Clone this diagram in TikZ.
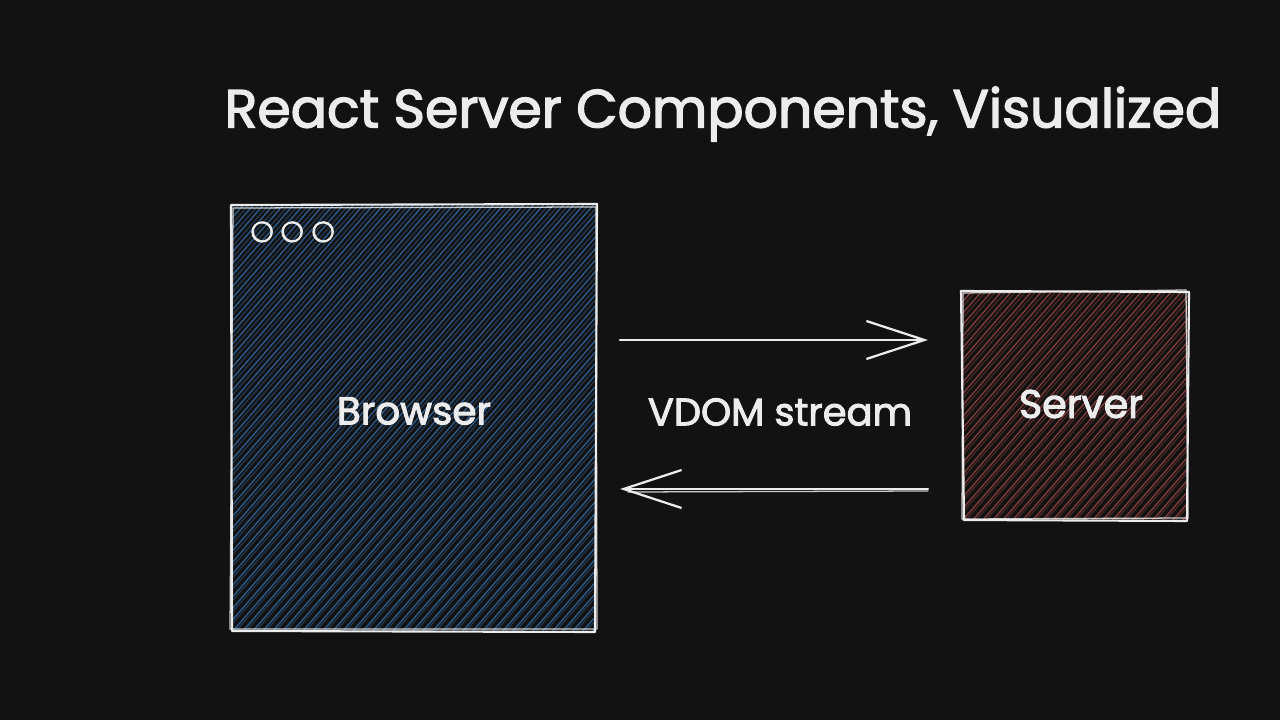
\documentclass[tikz,border=0pt]{standalone}
\usepackage{fontspec}
\setmainfont{Poppins}[FakeBold=2.5]
\usetikzlibrary{arrows.meta}
\definecolor{bg}{HTML}{121212}
\definecolor{ink}{HTML}{ECECEC}
\definecolor{hatchblue}{HTML}{2E5B8A}
\definecolor{hatchred}{HTML}{803C3C}
\newcommand{\fitw}[2]{\resizebox{#1}{!}{#2}}
\tikzset{
  sk/.style={draw=ink, line width=1.5pt, line join=round, line cap=round},
  skthin/.style={draw=ink, line width=0.9pt, line join=round, line cap=round, opacity=0.85},
  hb/.style={draw=hatchblue, line width=0.95pt},
  hr/.style={draw=hatchred, line width=0.95pt},
  lbl/.style={text=ink, inner sep=0pt, anchor=center},
  conn/.style={draw=ink, line width=1.6pt, line cap=round, -{Straight Barb[length=1.45cm,width=0.95cm,line width=1.6pt]}},
  boxnode/.style={draw=none, inner sep=0pt, anchor=north west}
}
\begin{document}
\begin{tikzpicture}[x=0.025cm, y=-0.025cm]
\fill[bg] (0,0) rectangle (1280,720);
\useasboundingbox (0,0) rectangle (1280,720);

% title
\node[lbl] (title) at (723,114) {\fitw{24.9cm}{React Server Components, Visualized}};

% browser box
\node[boxnode, minimum width=9.1cm, minimum height=10.625cm] (browser) at (232,206) {};
\begin{scope}
  \clip (232,206) rectangle (596,631);
  \foreach \i in {-380,-370,...,600} {
    \draw[hb] (232+\i,632) -- ++(600,-690);
    \draw[hb, opacity=0.5] (235+\i,632) -- ++(602,-688);
  }
\end{scope}
\draw[sk] (231,205) -- (597,204) -- (595,632) -- (232,631) -- cycle;
\draw[skthin] (233,208) -- (596,207) -- (597,629) -- (230,629) -- cycle;

% window dots
\foreach \cx/\nm in {262/d1,292/d2,323/d3} {
  \node[circle, draw=ink, line width=1.5pt, minimum size=0.48cm, inner sep=0pt] (\nm) at (\cx,232) {};
  \draw[skthin] (\cx+0.8,231.5) circle (9.5);
}

\node[lbl] (browserlbl) at (414,411) {\fitw{3.85cm}{Browser}};

% server box
\node[boxnode, minimum width=5.65cm, minimum height=5.7cm] (server) at (962,292) {};
\begin{scope}
  \clip (962,292) rectangle (1188,520);
  \foreach \i in {-220,-210,...,260} {
    \draw[hr] (962+\i,521) -- ++(600,-690);
    \draw[hr, opacity=0.5] (965+\i,521) -- ++(602,-688);
  }
\end{scope}
\draw[sk] (961,291) -- (1189,292) -- (1187,521) -- (964,520) -- cycle;
\draw[skthin] (963,293) -- (1186,290) -- (1188,518) -- (962,519) -- cycle;

\node[lbl] (serverlbl) at (1081,404) {\fitw{3.1cm}{Server}};

% arrows
\coordinate (a1) at (620,340);
\coordinate (a2) at (928,340);
\coordinate (b1) at (928,489);
\coordinate (b2) at (620,489);
\draw[conn] (a1) -- (a2);
\draw[conn] (b1) -- (b2);
\draw[skthin] (b1) ++(0,2) -- ++(-300,1);

\node[lbl] (vdom) at (780,412) {\fitw{6.6cm}{VDOM stream}};
\end{tikzpicture}
\end{document}
